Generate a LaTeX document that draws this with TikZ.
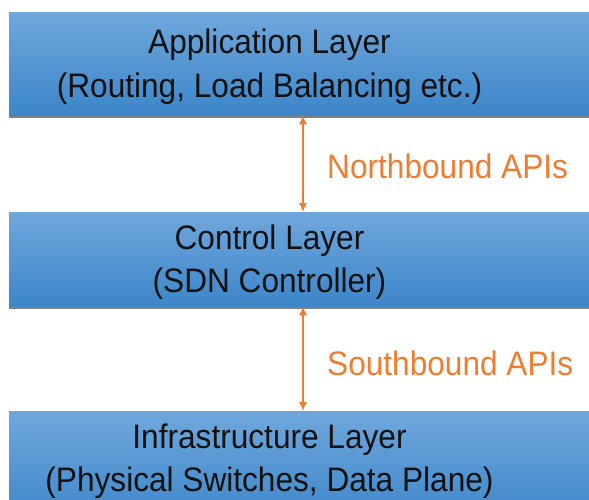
\documentclass[tikz,border=0pt]{standalone}
\usepackage{fontspec}
\setmainfont{Liberation Sans}
\usetikzlibrary{arrows.meta,shadows}

\definecolor{layertop}{HTML}{6FA7DC}
\definecolor{layerbot}{HTML}{3D86C9}
\definecolor{apiorange}{HTML}{ED7D31}
\definecolor{layerink}{HTML}{111111}

% two centred lines, slightly condensed
\newcommand{\layertext}[2]{\scalebox{0.93}[1]{\begin{tabular}[t]{@{}c@{}}#1\\#2\end{tabular}}}
\newcommand{\apitext}[1]{\scalebox{0.93}[1]{#1}}

\tikzset{
  layerbox/.style={rectangle, anchor=north west, inner sep=0pt,
    minimum width=620pt, top color=layertop, bottom color=layerbot,
    drop shadow={shadow xshift=0pt, shadow yshift=-2.5pt, fill=black!55, opacity=0.9}},
  layerlabel/.style={anchor=base, inner sep=0pt, text=layerink,
    font=\fontsize{34}{43.5}\selectfont},
  apilabel/.style={anchor=base west, inner sep=0pt, text=apiorange,
    font=\fontsize{34}{43.5}\selectfont},
  apiarrow/.style={draw=apiorange, line width=1.8pt,
    {Latex[length=9pt,width=8.5pt]}-{Latex[length=9pt,width=8.5pt]}}
}

\begin{document}
\begin{tikzpicture}[x=1pt,y=1pt]
  \clip (0,0) rectangle (589,499);
  \fill[white] (0,0) rectangle (589,499);

  % layers
  \node[layerbox, minimum height=103pt] (app) at (9,487) {};
  \node[layerbox, minimum height=94pt]  (ctl) at (9,287) {};
  \node[layerbox, minimum height=110pt] (inf) at (9,88)  {};

  \node[layerlabel] (appText) at (269.5,445)
    {\layertext{Application Layer}{(Routing, Load Balancing etc.)}};
  \node[layerlabel] (ctlText) at (269.5,250)
    {\layertext{Control Layer}{(SDN Controller)}};
  \node[layerlabel] (infText) at (269.5,51)
    {\layertext{Infrastructure Layer}{(Physical Switches, Data Plane)}};

  % interfaces between layers
  \coordinate (ax) at (303,0);
  \draw[apiarrow] (app.south -| ax) -- (ctl.north -| ax);
  \draw[apiarrow] (ctl.south -| ax) -- (inf.north -| ax);

  \node[apilabel] (north) at (327,320) {\apitext{Northbound APIs}};
  \node[apilabel] (south) at (327,124) {\apitext{Southbound APIs}};
\end{tikzpicture}
\end{document}
